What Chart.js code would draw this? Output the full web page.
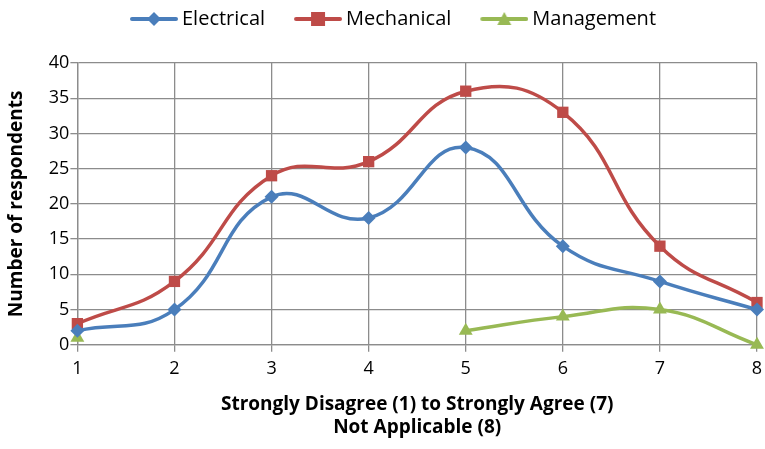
<!DOCTYPE html>
<html><head><meta charset="utf-8">
<script src="https://cdn.jsdelivr.net/npm/chart.js@4"></script>
<style>html,body{margin:0;padding:0;background:#fff}#wrap{width:765px;height:449px}</style>
</head><body><div id="wrap"><canvas id="c" width="765" height="449"></canvas></div>
<script>
const categories = [1, 2, 3, 4, 5, 6, 7, 8];
const electrical = [2, 5, 21, 18, 28, 14, 9, 5];
const mechanical = [3, 9, 24, 26, 36, 33, 14, 6];
const management = [1, null, null, null, 2, 4, 5, 0];
const seriesNames = ['Electrical', 'Mechanical', 'Management'];
const xTitle = ['Strongly Disagree (1) to Strongly Agree (7)', 'Not Applicable (8)'];
const yTitle = 'Number of respondents';

const colors = ['#4A7EBB', '#BE4B48', '#98B954'];
const styles = ['rectRot', 'rect', 'triangle'];
const FONT = '"Open Sans", sans-serif';

function legendImg(color, style) {
  const c = document.createElement('canvas');
  c.width = 74; c.height = 18;
  const g = c.getContext('2d');
  const x0 = 26, x1 = 74, m = 50;
  g.strokeStyle = color; g.lineWidth = 4; g.lineCap = 'round';
  g.beginPath(); g.moveTo(x0 + 2, 9); g.lineTo(x1 - 2, 9); g.stroke();
  g.fillStyle = color;
  g.beginPath();
  if (style === 'rectRot') { g.moveTo(m, 2); g.lineTo(m + 7, 9); g.lineTo(m, 16); g.lineTo(m - 7, 9); }
  else if (style === 'rect') { g.rect(m - 7, 2, 14, 14); }
  else { g.moveTo(m, 2); g.lineTo(m + 7, 15); g.lineTo(m - 7, 15); }
  g.closePath(); g.fill();
  return c;
}
const imgs = colors.map((c, i) => legendImg(c, styles[i]));

function mk(i, data, r) {
  return {
    label: seriesNames[i],
    data: categories.map((x, k) => ({x: x, y: data[k]})),
    borderColor: colors[i], backgroundColor: colors[i],
    borderWidth: 3.5, pointStyle: styles[i], pointRadius: r, pointHoverRadius: r,
    pointBorderWidth: 0, tension: 0.45, spanGaps: false, clip: false
  };
}

const legendSpace = {
  id: 'legendSpace',
  beforeInit(chart) {
    const fit = chart.legend.fit;
    chart.legend.fit = function () { fit.call(this); this.height += 24; };
  }
};

new Chart(document.getElementById('c'), {
  type: 'line',
  data: { datasets: [mk(0, electrical, 7), mk(1, mechanical, 8), mk(2, management, 8)] },
  plugins: [legendSpace],
  options: {
    responsive: false, animation: false,
    layout: { padding: { left: 3, right: 2, top: 0, bottom: 10 } },
    plugins: {
      legend: {
        position: 'top',
        labels: {
          usePointStyle: true, pointStyleWidth: 62, color: '#000',
          font: { family: FONT, size: 20 },
          padding: 9,
          generateLabels(chart) {
            return chart.data.datasets.map((d, i) => ({
              text: d.label, pointStyle: imgs[i], fillStyle: d.borderColor,
              strokeStyle: d.borderColor, lineWidth: 0, datasetIndex: i, hidden: false
            }));
          }
        }
      },
      tooltip: { enabled: false }
    },
    scales: {
      x: {
        type: 'linear', min: 1, max: 8,
        afterFit(s) { s.paddingRight = 0; },
        ticks: { stepSize: 1, color: '#000', font: { family: FONT, size: 18 }, padding: 6 },
        grid: { color: '#8c8c8c', lineWidth: 1.3, tickLength: 7 },
        border: { color: '#8c8c8c', width: 1.3 },
        title: { display: true, text: xTitle, color: '#000', font: { family: FONT, size: 19, weight: 'bold' }, padding: { top: 8, bottom: 0 } }
      },
      y: {
        min: 0, max: 40,
        ticks: { stepSize: 5, color: '#000', font: { family: FONT, size: 18 }, padding: 1 },
        grid: { color: '#8c8c8c', lineWidth: 1.3, tickLength: 7 },
        border: { color: '#8c8c8c', width: 1.3 },
        title: { display: true, text: yTitle, color: '#000', font: { family: FONT, size: 19, weight: 'bold' }, padding: { top: 2, bottom: 20 } }
      }
    }
  }
});
</script></body></html>
